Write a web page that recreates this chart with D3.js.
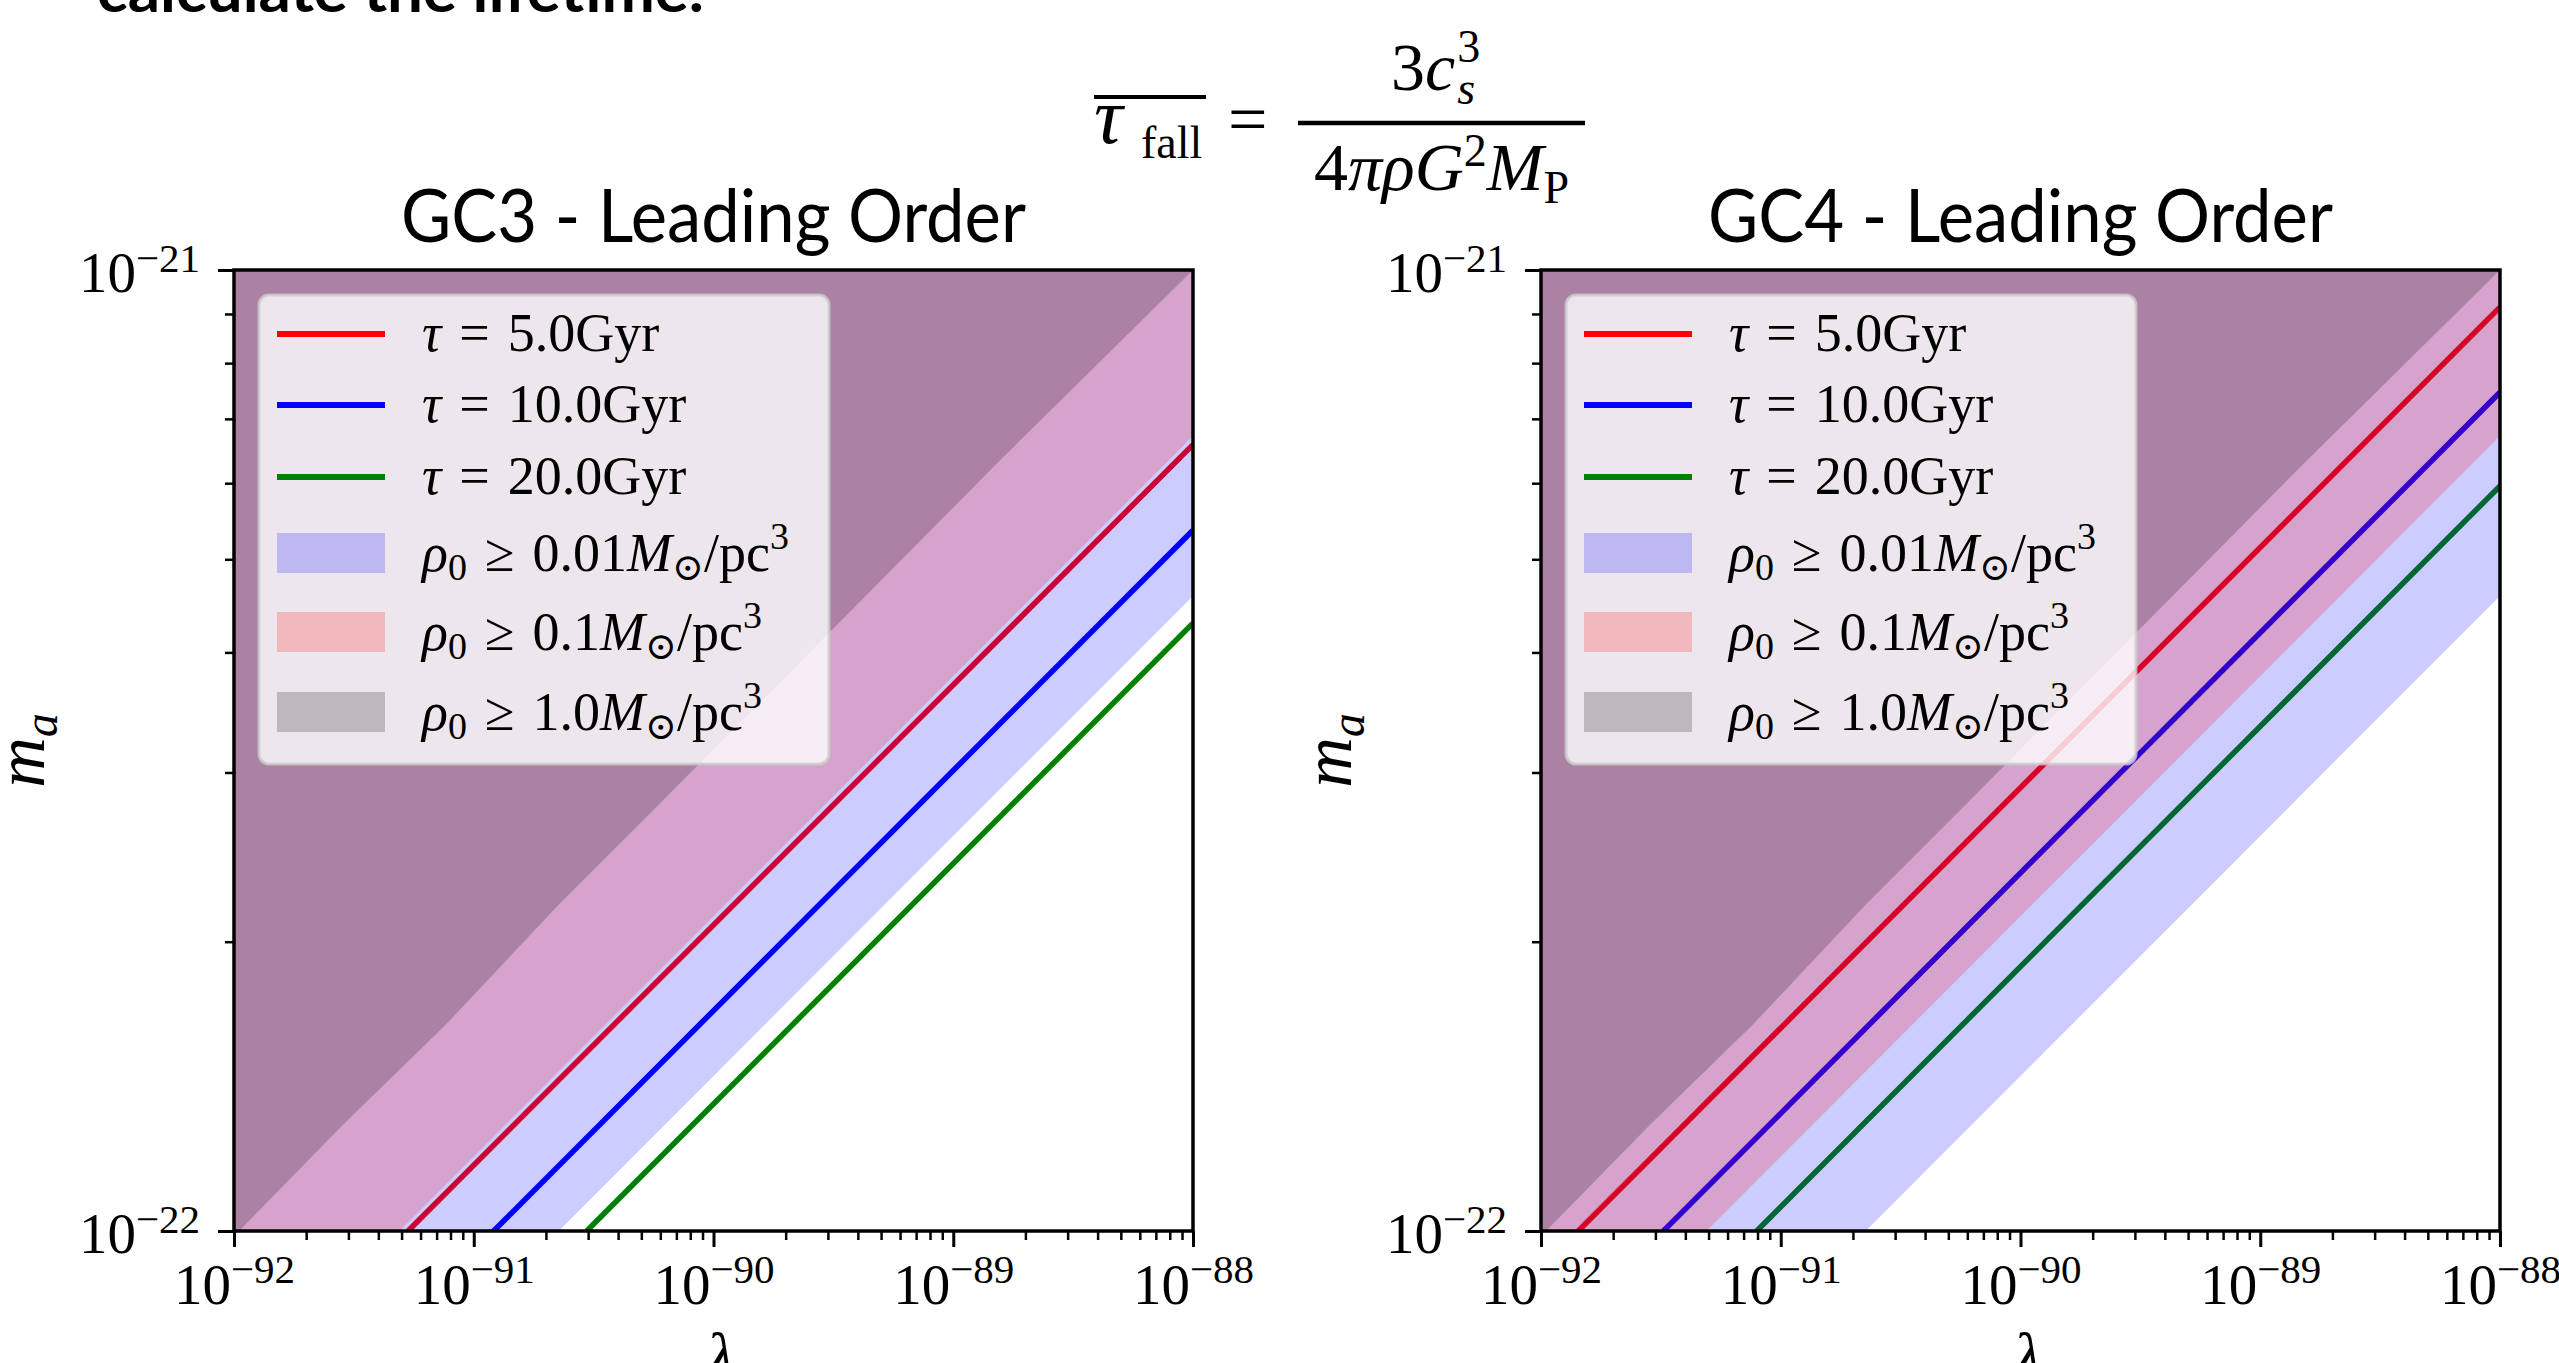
<!DOCTYPE html>
<html>
<head>
<meta charset="utf-8">
<script src="https://cdn.jsdelivr.net/npm/d3@7"></script>
<style>
  body { margin: 0; background: #fff; }
  svg { display: block; }
  .serif { font-family: "Liberation Serif", "DejaVu Serif", serif; fill: #000; }
</style>
</head>
<body>
<div id="chart"></div>
<script>

// Axis ranges and major tick exponents
const lamDomain = [1e-92, 1e-88];
const maDomain  = [1e-22, 1e-21];
const lamExps   = [-92, -91, -90, -89, -88];
const maExps    = [-22, -21];

const panelTitles = ["GC3 - Leading Order", "GC4 - Leading Order"];
const tauLabels   = ["5.0", "10.0", "20.0"];
const rhoLabels   = ["0.01", "0.1", "1.0"];

// Constant-lifetime lines, [lambda, m_a] end points
const gc3Tau5  = [[5.32e-92, 1e-22], [1e-88, 6.58e-22]];
const gc3Tau10 = [[1.21e-91, 1e-22], [1e-88, 5.36e-22]];
const gc3Tau20 = [[2.96e-91, 1e-22], [1e-88, 4.29e-22]];
const gc4Tau5  = [[1.43e-92, 1e-22], [1e-88, 9.15e-22]];
const gc4Tau10 = [[3.24e-92, 1e-22], [1e-88, 7.46e-22]];
const gc4Tau20 = [[7.94e-92, 1e-22], [1e-88, 5.96e-22]];

// Density contour edges (same in both panels); region is above/left of the edge
const rho001Edge = [[2.26e-91, 1e-22], [1e-88, 4.58e-22]];
const rho01Edge  = [[4.90e-92, 1e-22], [1e-88, 6.72e-22]];
const rho1Edge   = [[1.05e-92, 1e-22], [2.85e-92, 1.29e-22], [7.66e-92, 1.64e-22],
                    [2.24e-91, 2.18e-22], [6.10e-91, 2.80e-22], [1.57e-89, 6.34e-22],
                    [1e-88, 1e-21]];

// Layout
const W = 2559, H = 1363;
const plotTop = 270, plotW = 959, plotH = 961;
const panelLefts = [234, 1541];
const tauColors = ["#ff0000", "#0000ff", "#008000"];
const rhoColors = ["#0000ff", "#ff0000", "#000000"];

const svg = d3.select("#chart").append("svg")
    .attr("width", W)
    .attr("height", H);

const panels = [
    {title: panelTitles[0], left: panelLefts[0], lines: [gc3Tau5, gc3Tau10, gc3Tau20]},
    {title: panelTitles[1], left: panelLefts[1], lines: [gc4Tau5, gc4Tau10, gc4Tau20]}
];

panels.forEach((p, i) => drawPanel(p, i));
drawFormula();

function supLabel(sel, exp, baseSize, supSize, rise) {
    sel.text("");
    sel.append("tspan").attr("font-size", baseSize).text("10");
    sel.append("tspan").attr("font-size", supSize).attr("dy", -rise)
        .text("\u2212" + Math.abs(exp));
}

function drawPanel(p, i) {
    let x = d3.scaleLog().domain(lamDomain).range([p.left, p.left + plotW]);
    let y = d3.scaleLog().domain(maDomain).range([plotTop + plotH, plotTop]);
    let g = svg.append("g");

    // Clip to the axes box
    g.append("clipPath").attr("id", "clip" + i)
        .append("rect")
        .attr("x", p.left).attr("y", plotTop)
        .attr("width", plotW).attr("height", plotH);
    let plot = g.append("g").attr("clip-path", "url(#clip" + i + ")");

    let line = d3.line().x(d => x(d[0])).y(d => y(d[1]));

    // Lifetime lines (drawn first, the contour fills sit over them)
    p.lines.forEach((pts, k) => {
        plot.append("path")
            .attr("d", line(pts))
            .attr("fill", "none")
            .attr("stroke", tauColors[k])
            .attr("stroke-width", 5.5);
    });

    // Density regions
    [rho001Edge, rho01Edge, rho1Edge].forEach((edge, k) => {
        let pts = edge.concat([[lamDomain[1], maDomain[1]], [lamDomain[0], maDomain[1]], [lamDomain[0], maDomain[0]]]);
        plot.append("path")
            .attr("d", line(pts) + "Z")
            .attr("fill", rhoColors[k])
            .attr("fill-opacity", 0.2);
    });

    // Ticks
    let lamMinor = [], maMinor = [];
    lamExps.slice(0, -1).forEach(e => { for (let k = 2; k < 10; k++) lamMinor.push(k * Math.pow(10, e)); });
    maExps.slice(0, -1).forEach(e => { for (let k = 2; k < 10; k++) maMinor.push(k * Math.pow(10, e)); });

    let xMinor = g.append("g")
        .attr("transform", "translate(0," + (plotTop + plotH) + ")")
        .call(d3.axisBottom(x).tickValues(lamMinor).tickSize(9).tickFormat(""));
    let yMinor = g.append("g")
        .attr("transform", "translate(" + p.left + ",0)")
        .call(d3.axisLeft(y).tickValues(maMinor).tickSize(9).tickFormat(""));
    [xMinor, yMinor].forEach(a => {
        a.select(".domain").remove();
        a.selectAll("line").attr("stroke", "#000").attr("stroke-width", 2.5);
    });

    let xMajor = g.append("g")
        .attr("transform", "translate(0," + (plotTop + plotH) + ")")
        .call(d3.axisBottom(x).tickValues(lamExps.map(e => Math.pow(10, e))).tickSize(16));
    xMajor.selectAll("text")
        .attr("class", "serif")
        .attr("y", 73).attr("dy", null)
        .each(function(d, j) { supLabel(d3.select(this), lamExps[j], 57, 41, 21); });

    let yMajor = g.append("g")
        .attr("transform", "translate(" + p.left + ",0)")
        .call(d3.axisLeft(y).tickValues(maExps.map(e => Math.pow(10, e))).tickSize(16));
    yMajor.selectAll("text")
        .attr("class", "serif")
        .attr("x", -34).attr("y", 21).attr("dy", null)
        .each(function(d, j) { supLabel(d3.select(this), maExps[j], 57, 41, 20); });

    [xMajor, yMajor].forEach(a => {
        a.select(".domain").remove();
        a.attr("font-family", null).attr("font-size", null);
        a.selectAll("line").attr("stroke", "#000").attr("stroke-width", 3);
    });

    // Spines
    g.append("rect")
        .attr("x", p.left).attr("y", plotTop)
        .attr("width", plotW).attr("height", plotH)
        .attr("fill", "none").attr("stroke", "#000").attr("stroke-width", 3.5);

    // Title
    g.append("text")
        .attr("x", p.left + plotW / 2).attr("y", 242)
        .attr("text-anchor", "middle")
        .attr("font-family", "Lato, 'Open Sans', sans-serif")
        .attr("font-size", 73)
        .attr("textLength", 625).attr("lengthAdjust", "spacingAndGlyphs")
        .text(p.title);

    // Axis labels
    let yl = g.append("text").attr("class", "serif")
        .attr("transform", "translate(" + (p.left - 190) + "," + (plotTop + plotH / 2) + ") rotate(-90)")
        .attr("text-anchor", "middle")
        .attr("font-size", 70);
    yl.append("tspan").attr("font-style", "italic").text("m");
    yl.append("tspan").attr("font-style", "italic").attr("font-size", 48).attr("dy", 13).text("a");

    g.append("text").attr("class", "serif")
        .attr("x", p.left + plotW / 2 + 7).attr("y", 1378)
        .attr("text-anchor", "middle")
        .attr("font-size", 66).attr("font-style", "italic")
        .text("\u03bb");

    drawLegend(g, p.left + 25, plotTop + 25);
}

function drawLegend(g, lx, ly) {
    let leg = g.append("g").attr("transform", "translate(" + lx + "," + ly + ")");
    leg.append("rect")
        .attr("width", 570).attr("height", 469).attr("rx", 10)
        .attr("fill", "#fff").attr("fill-opacity", 0.8)
        .attr("stroke", "#cccccc").attr("stroke-opacity", 0.8).attr("stroke-width", 3);

    let lineY = [39, 110, 182];
    tauLabels.forEach((lab, k) => {
        leg.append("line")
            .attr("x1", 18).attr("x2", 126)
            .attr("y1", lineY[k]).attr("y2", lineY[k])
            .attr("stroke", tauColors[k]).attr("stroke-width", 6);
        let t = leg.append("text").attr("class", "serif")
            .attr("x", 163).attr("y", lineY[k] + 17)
            .attr("font-size", 54);
        t.append("tspan").attr("font-style", "italic").text("\u03c4");
        t.append("tspan").text("\u2004=\u2004" + lab + "Gyr");
    });

    let patchY = [258, 337, 417];
    rhoLabels.forEach((lab, k) => {
        leg.append("rect")
            .attr("x", 18).attr("width", 108)
            .attr("y", patchY[k] - 20).attr("height", 40)
            .attr("fill", rhoColors[k]).attr("fill-opacity", 0.2);
        let t = leg.append("text").attr("class", "serif")
            .attr("x", 163).attr("y", patchY[k] + 18)
            .attr("font-size", 54);
        t.append("tspan").attr("font-style", "italic").text("\u03c1");
        t.append("tspan").attr("font-size", 38).attr("dy", 9).text("0");
        t.append("tspan").attr("dy", -9).text("\u2004\u2265\u2004" + lab);
        t.append("tspan").attr("font-style", "italic").text("M");
        t.append("tspan").attr("font-size", 38).attr("dy", 9).text("\u2299");
        t.append("tspan").attr("dy", -9).text("/pc");
        t.append("tspan").attr("font-size", 38).attr("dy", -22).text("3");
    });
}

function drawFormula() {
    let f = svg.append("g").attr("class", "serif");

    // Slide text cut off at the top edge
    svg.append("text")
        .attr("x", 97).attr("y", 12)
        .attr("font-family", "Lato, sans-serif").attr("font-weight", "bold")
        .attr("font-size", 60)
        .attr("textLength", 607).attr("lengthAdjust", "spacingAndGlyphs")
        .text("calculate the lifetime.");

    f.append("text").attr("x", 1094).attr("y", 143)
        .attr("font-size", 80).attr("font-style", "italic").text("\u03c4");
    f.append("text").attr("x", 1141).attr("y", 158)
        .attr("font-size", 46).text("fall");
    f.append("line").attr("x1", 1094).attr("x2", 1206).attr("y1", 97).attr("y2", 97)
        .attr("stroke", "#000").attr("stroke-width", 4);
    f.append("text").attr("x", 1228).attr("y", 143)
        .attr("font-size", 70).text("=");
    f.append("line").attr("x1", 1298).attr("x2", 1585).attr("y1", 123).attr("y2", 123)
        .attr("stroke", "#000").attr("stroke-width", 4.5);

    // Numerator 3 c_s^3
    let num = f.append("text").attr("x", 1391).attr("y", 90).attr("font-size", 68);
    num.append("tspan").text("3");
    num.append("tspan").attr("font-style", "italic").text("c");
    let nx = 1391 + num.node().getComputedTextLength() + 2;
    f.append("text").attr("x", nx).attr("y", 62).attr("font-size", 46).text("3");
    f.append("text").attr("x", nx).attr("y", 104).attr("font-size", 46).attr("font-style", "italic").text("s");

    // Denominator 4 pi rho G^2 M_P
    let den = f.append("text").attr("y", 190).attr("font-size", 68);
    den.append("tspan").text("4");
    den.append("tspan").attr("font-style", "italic").text("\u03c0\u03c1G");
    den.append("tspan").attr("font-size", 46).attr("dy", -24).text("2");
    den.append("tspan").attr("font-style", "italic").attr("dy", 24).text("M");
    den.append("tspan").attr("font-size", 46).attr("dy", 13).text("P");
    let dw = den.node().getComputedTextLength();
    den.attr("x", 1441.5 - dw / 2);
}

</script>
</body>
</html>
